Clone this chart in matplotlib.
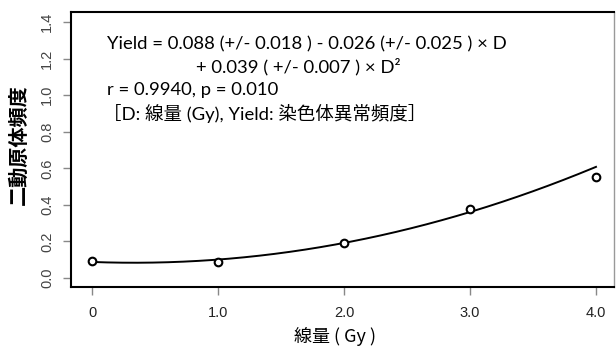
import numpy as np
import matplotlib.pyplot as plt

# measured points
dose = [0, 1, 2, 3, 4]
yield_obs = [0.093, 0.089, 0.19, 0.38, 0.555]

# fitted coefficients: Yield = c0 + c1*D + c2*D^2
coef = [0.088, -0.026, 0.039]

x_ticks = [0, 1, 2, 3, 4]
x_tick_labels = ['0', '1.0', '2.0', '3.0', '4.0']
y_ticks = [0.0, 0.2, 0.4, 0.6, 0.8, 1.0, 1.2, 1.4]

ann_lines = [
    'Yield = 0.088 (+/- 0.018 ) - 0.026 (+/- 0.025 ) × D',
    '+ 0.039 ( +/- 0.007 ) × D²',
    'r = 0.9940, p = 0.010',
    '［D: 線量 (Gy), Yield: 染色体異常頻度］',
]

cjk = ['Noto Sans CJK JP', 'DejaVu Sans']
ann_font = ['Lato', 'Noto Sans CJK JP', 'DejaVu Sans']

fig = plt.figure(figsize=(6.16, 3.54), dpi=100)
ax = fig.add_axes([71 / 616, 67 / 354, 543 / 616, 275 / 354])

d = np.linspace(0, 4, 200)
ax.plot(d, coef[0] + coef[1] * d + coef[2] * d ** 2, color='black', lw=1.4)
ax.plot(dose, yield_obs, 'o', mfc='white', mec='black', mew=1.5, ms=5.5)

ax.set_xlim(-0.167, 4.143)
ax.set_ylim(-0.049, 1.455)
ax.set_xticks(x_ticks)
ax.set_xticklabels(x_tick_labels, fontsize=10.5, family='Liberation Sans', color='#222222')
ax.set_yticks(y_ticks)
ax.set_yticklabels([f'{v:.1f}' for v in y_ticks], rotation=90, va='center',
                   fontsize=10.5, family='Liberation Sans', color='#444444')
ax.tick_params(axis='both', length=6, width=1, color='#888888')
ax.tick_params(axis='x', pad=8)
ax.tick_params(axis='y', pad=6)

for s in ['left', 'bottom', 'top']:
    ax.spines[s].set_linewidth(1.5)
    ax.spines[s].set_color('black')
ax.spines['right'].set_linewidth(1)
ax.spines['right'].set_color('#999999')

fig.text(18 / 616, 1 - 145 / 354, '二動原体頻度', rotation=90, ha='center', va='center',
         fontsize=14.5, fontweight='bold', family=cjk)
fig.text(335 / 616, 1 - 337 / 354, '線量 ( Gy )', ha='center', va='center',
         fontsize=13, family=cjk)

ann_pos = [(107, 44), (196, 67), (107, 90), (103, 113)]
for (px, py), txt in zip(ann_pos, ann_lines):
    fig.text(px / 616, 1 - py / 354, txt, ha='left', va='center',
             fontsize=13.3, family=ann_font)

fig.savefig('out.png', dpi=100)
